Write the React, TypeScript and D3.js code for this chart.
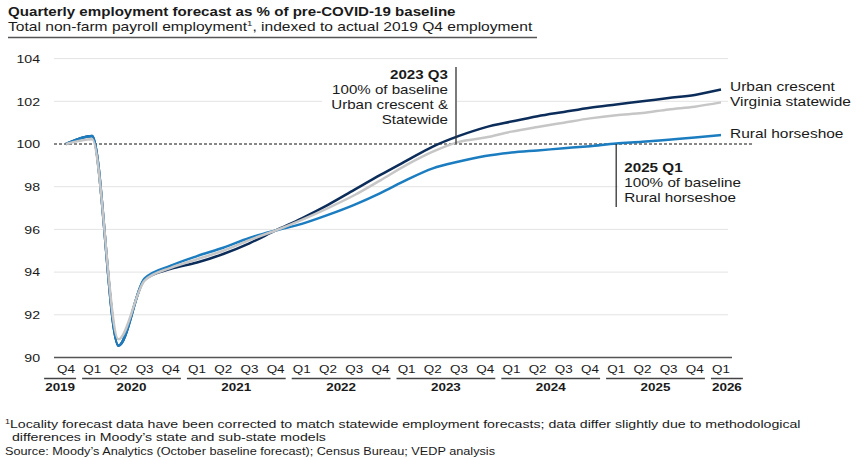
import React from "react";
import * as d3 from "d3";

// Quarter labels from 2019 Q4 through 2026 Q1
const quarters = [
  "Q4",
  "Q1", "Q2", "Q3", "Q4",
  "Q1", "Q2", "Q3", "Q4",
  "Q1", "Q2", "Q3", "Q4",
  "Q1", "Q2", "Q3", "Q4",
  "Q1", "Q2", "Q3", "Q4",
  "Q1", "Q2", "Q3", "Q4",
  "Q1",
];
const years = ["2019", "2020", "2021", "2022", "2023", "2024", "2025", "2026"];

// Employment indexed to 2019 Q4 = 100
const urbanCrescent = [
  100, 100.38, 90.55, 93.65, 94.15, 94.45, 94.85, 95.35, 95.95, 96.52, 97.15,
  97.85, 98.55, 99.22, 99.88, 100.38, 100.78, 101.05, 101.3, 101.5, 101.7,
  101.85, 102.0, 102.15, 102.3, 102.55,
];
const ruralHorseshoe = [
  100, 100.38, 90.55, 93.7, 94.3, 94.75, 95.14, 95.6, 95.95, 96.26, 96.68,
  97.15, 97.7, 98.32, 98.86, 99.18, 99.44, 99.6, 99.7, 99.8, 99.9, 100.02,
  100.1, 100.2, 100.3, 100.42,
];
const virginiaStatewide = [
  100, 100.22, 90.85, 93.6, 94.2, 94.6, 95.0, 95.5, 95.95, 96.45, 97.0, 97.6,
  98.3, 99.02, 99.64, 100.1, 100.3, 100.58, 100.8, 101.0, 101.2, 101.35,
  101.45, 101.62, 101.75, 101.95,
];
const yTicks = [90, 92, 94, 96, 98, 100, 102, 104];

const seriesNames = ["Urban crescent", "Virginia statewide", "Rural horseshoe"];

const FONT = "'Liberation Sans', Arial, Helvetica, sans-serif";
const SX = 1.2; // horizontal stretch applied to all type
const INK = "#1a1a1a";

function T(props: {
  x: number;
  y: number;
  size: number;
  anchor?: "start" | "middle" | "end";
  weight?: string | number;
  fill?: string;
  children: React.ReactNode;
}) {
  const { x, y, size, anchor = "start", weight = "normal", fill = INK, children } = props;
  return (
    <text
      transform={`translate(${x},${y}) scale(${SX},1)`}
      textAnchor={anchor}
      fontSize={size}
      fontWeight={weight}
      fill={fill}
      fontFamily={FONT}
    >
      {children}
    </text>
  );
}

export default function App() {
  const W = 856;
  const H = 460;

  const idx = quarters.map((_, i) => i);
  const x = d3.scalePoint<number>().domain(idx).range([66, 721]);
  const step = x.step();
  const y = d3.scaleLinear().domain([90, 104]).range([357.5, 58.6]);

  const plotLeft = 54;
  const gridRight = 728;
  const axisRight = 732;

  const line = d3
    .line<number>()
    .x((_, i) => x(i) as number)
    .y((d) => y(d))
    .curve(d3.curveMonotoneX);

  // Group quarters into years: a new year starts at every Q1
  const groups: { year: string; a: number; b: number }[] = [];
  quarters.forEach((q, i) => {
    if (i === 0 || q === "Q1") groups.push({ year: years[groups.length], a: i, b: i });
    else groups[groups.length - 1].b = i;
  });

  const series = [
    { name: seriesNames[0], values: urbanCrescent, color: "#0c2d5a" },
    { name: seriesNames[2], values: ruralHorseshoe, color: "#1b7dc0" },
    { name: seriesNames[1], values: virginiaStatewide, color: "#c6c6c6" },
  ];

  const ann1 = 15; // 2023 Q3
  const ann2 = 21; // 2025 Q1
  const xa1 = x(ann1) as number;
  const xa2 = x(ann2) as number;

  return (
    <div style={{ position: "absolute", left: 0, top: 0 }}>
      <svg width={W} height={H} style={{ display: "block", background: "#fff" }}>
        {/* Title block */}
        <T x={8} y={16} size={12.6} weight="bold">
          Quarterly employment forecast as % of pre-COVID-19 baseline
        </T>
        <T x={8} y={30.5} size={13}>
          Total non-farm payroll employment
          <tspan fontSize={8} dy={-5}>1</tspan>
          <tspan dy={5}>, indexed to actual 2019 Q4 employment</tspan>
        </T>
        <line x1={8} x2={537} y1={37.5} y2={37.5} stroke="#555" strokeWidth={1.5} />

        {/* Gridlines and y labels */}
        {yTicks.map((t) => (
          <g key={t}>
            {t !== 90 && t !== 100 && (
              <line x1={plotLeft} x2={gridRight} y1={y(t)} y2={y(t)} stroke="#e3e3e3" strokeWidth={1} />
            )}
            <T x={40} y={y(t) + 4.3} size={11.8} anchor="end">
              {t}
            </T>
          </g>
        ))}

        {/* Annotation backgrounds */}
        <rect x={322} y={82} width={xa1 - 324} height={46} fill="#fff" />
        <rect x={xa2 + 2} y={160} width={125} height={46} fill="#fff" />

        {/* Baseline at 100 */}
        <line
          x1={plotLeft}
          x2={753}
          y1={y(100)}
          y2={y(100)}
          stroke="#111"
          strokeWidth={1}
          strokeDasharray="3,2"
        />

        {/* Series */}
        {series.map((s) => (
          <path key={s.name} d={line(s.values) || ""} fill="none" stroke={s.color} strokeWidth={2.5} />
        ))}

        {/* Series labels */}
        <T x={730} y={y(urbanCrescent[25]) + 1} size={12.9}>
          {seriesNames[0]}
        </T>
        <T x={730} y={y(virginiaStatewide[25]) + 3.5} size={12.9}>
          {seriesNames[1]}
        </T>
        <T x={730} y={y(ruralHorseshoe[25]) + 2.5} size={12.9}>
          {seriesNames[2]}
        </T>

        {/* Annotation: 2023 Q3 */}
        <line x1={xa1 - 3} x2={xa1 - 3} y1={67} y2={y(100)} stroke="#333" strokeWidth={1.3} />
        <T x={xa1 - 11} y={78.5} size={12.6} anchor="end" weight="bold">
          2023 Q3
        </T>
        <T x={xa1 - 11} y={93.5} size={12.6} anchor="end">
          100% of baseline
        </T>
        <T x={xa1 - 11} y={108.5} size={12.6} anchor="end">
          Urban crescent &amp;
        </T>
        <T x={xa1 - 11} y={123.5} size={12.6} anchor="end">
          Statewide
        </T>

        {/* Annotation: 2025 Q1 */}
        <line x1={xa2} x2={xa2} y1={y(100)} y2={207} stroke="#333" strokeWidth={1.3} />
        <T x={xa2 + 8} y={171.5} size={12.7} weight="bold">
          2025 Q1
        </T>
        <T x={xa2 + 8} y={186.5} size={12.7}>
          100% of baseline
        </T>
        <T x={xa2 + 8} y={201.5} size={12.7}>
          Rural horseshoe
        </T>

        {/* X axis */}
        <line x1={plotLeft} x2={axisRight} y1={357.5} y2={357.5} stroke="#555" strokeWidth={1.6} />
        {quarters.map((q, i) => (
          <T key={i} x={x(i) as number} y={373} size={11.2} anchor="middle">
            {q}
          </T>
        ))}
        {groups.map((g, gi) => {
          let l = (x(g.a) as number) - step / 2 + 3;
          let r = (x(g.b) as number) + step / 2 - 3;
          const minW = 32;
          if (r - l < minW) {
            if (gi === 0) l = r - minW;
            else r = l + minW;
          }
          return (
            <g key={g.year}>
              <line x1={l} x2={r} y1={378.5} y2={378.5} stroke="#444" strokeWidth={1.3} />
              <T x={(l + r) / 2} y={391} size={11.2} anchor="middle" weight="bold">
                {g.year}
              </T>
            </g>
          );
        })}

        {/* Footnotes */}
        <T x={5} y={428} size={11.8}>
          <tspan fontSize={7.5} dy={-4}>1</tspan>
          <tspan dy={4}>
            Locality forecast data have been corrected to match statewide employment forecasts; data differ
            slightly due to methodological
          </tspan>
        </T>
        <T x={12} y={441} size={11.8}>
          differences in Moody’s state and sub-state models
        </T>
        <T x={5} y={455} size={10.6}>
          Source: Moody’s Analytics (October baseline forecast); Census Bureau; VEDP analysis
        </T>
      </svg>
    </div>
  );
}
